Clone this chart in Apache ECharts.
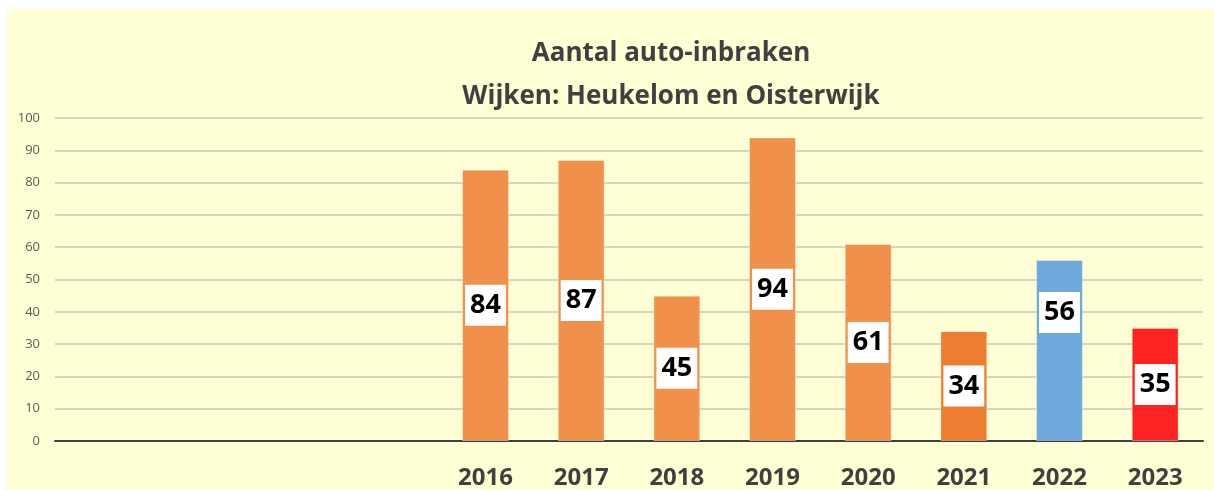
<!DOCTYPE html>
<html>
<head>
<meta charset="utf-8">
<title>Aantal auto-inbraken</title>
<script src="https://cdn.jsdelivr.net/npm/echarts@6/dist/echarts.min.js"></script>
<style>
  html, body { margin: 0; padding: 0; background: #fff; }
  #chart {
    position: absolute;
    left: 7px;
    top: 9px;
    width: 1207px;
    height: 481px;
    background: #ffffd6;
  }
</style>
</head>
<body>
<div id="chart"></div>
<script>
// jaren (eerste vier kolommen zijn leeg in de grafiek)
const years = ['', '', '', '', '2016', '2017', '2018', '2019', '2020', '2021', '2022', '2023']
const counts = [null, null, null, null, 84, 87, 45, 94, 61, 34, 56, 35]
const barColors = [null, null, null, null, '#f0904a', '#f0904a', '#f0904a', '#f0904a', '#f0904a', '#ec7d31', '#6fa8da', '#ff2222']
const yTicks = { min: 0, max: 100, interval: 10 }

const chart = echarts.init(document.getElementById('chart'))

// bar items met eigen kleur; label van 2022 staat hoger in de balk
const barData = counts.map((v, i) => {
  if (v === null) return '-'
  const item = {
    value: v,
    itemStyle: { color: barColors[i], borderColor: 'rgba(255,255,255,0.35)', borderWidth: 1 }
  }
  if (years[i] === '2022') item.label = { offset: [0, -38] }
  return item
})

const options = {
  backgroundColor: 'transparent',
  title: {
    text: 'Aantal auto-inbraken\nWijken: Heukelom en Oisterwijk',
    left: 659,
    top: 18,
    textAlign: 'center',
    textStyle: {
      fontFamily: 'Open Sans',
      fontSize: 26,
      fontWeight: 'bold',
      color: '#404040',
      lineHeight: 43
    }
  },
  grid: {
    left: 48,
    right: 11,
    top: 109,
    bottom: 40
  },
  xAxis: {
    type: 'category',
    data: years,
    axisTick: { show: false },
    axisLine: { lineStyle: { color: '#404040', width: 2 } },
    axisLabel: {
      interval: 0,
      margin: 25,
      fontFamily: 'Open Sans',
      fontSize: 24,
      fontWeight: 'bold',
      color: '#404040'
    }
  },
  yAxis: {
    type: 'value',
    min: yTicks.min,
    max: yTicks.max,
    interval: yTicks.interval,
    axisLine: { show: false },
    axisTick: { show: false },
    axisLabel: {
      margin: 15,
      fontFamily: 'Open Sans',
      fontSize: 13,
      color: '#595959'
    },
    splitLine: { lineStyle: { color: '#c9c9b6', width: 1.5 } }
  },
  series: [
    {
      type: 'bar',
      barWidth: '49%',
      data: barData,
      label: {
        show: true,
        position: 'inside',
        backgroundColor: '#fff',
        padding: [8, 5, 6, 5],
        fontFamily: 'Open Sans',
        fontSize: 27,
        fontWeight: 'bold',
        color: '#000'
      }
    }
  ]
}

chart.setOption(options)

window.addEventListener('resize', () => {
  chart.resize()
})
</script>
</body>
</html>
